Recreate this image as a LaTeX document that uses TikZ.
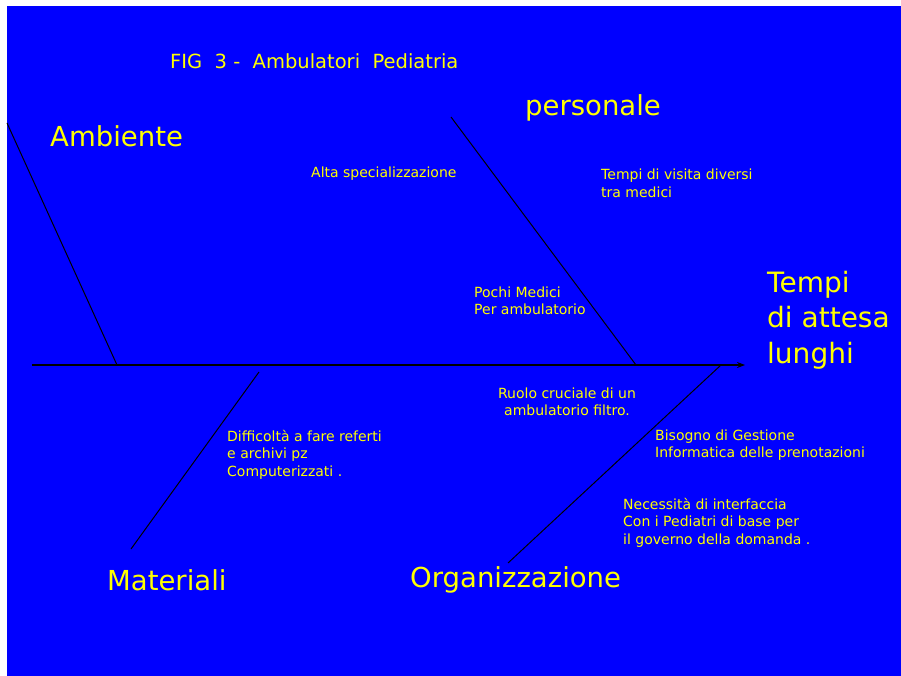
\documentclass[tikz,border=0pt]{standalone}
\usepackage{fontspec}
\setmainfont{DejaVu Sans}
\usetikzlibrary{arrows.meta}
\definecolor{bgblue}{RGB}{0,0,255}
\definecolor{txtyellow}{RGB}{255,255,0}
\newcommand{\smalltxt}{\fontsize{14}{17.5}\selectfont}
\newcommand{\bigtxt}{\fontsize{27.5}{35.5}\selectfont}
\newcommand{\lines}[2]{\begin{tabular}[t]{@{}#1@{}}#2\end{tabular}}
\begin{document}
\begin{tikzpicture}[x=1pt,y=-1pt,
  lbl/.style={text=txtyellow,inner sep=0pt,anchor=base west},
  note/.style={lbl,font=\smalltxt},
  cat/.style={lbl,font=\bigtxt},
  bone/.style={draw=black,line width=1pt},
  spine/.style={draw=black,line width=1.3pt,-{Stealth[length=8pt,width=6pt]}}]
\useasboundingbox (0,0) rectangle (901,676);
\fill[white] (0,0) rectangle (901,676);
\fill[bgblue] (7,6) rectangle (901,676);
% coordinates
\coordinate (tail) at (32,365);
\coordinate (head) at (745,365);
\coordinate (ambA) at (7,123);
\coordinate (ambB) at (117,365);
\coordinate (perA) at (451,117);
\coordinate (perB) at (636,365);
\coordinate (matA) at (259,372);
\coordinate (matB) at (131,549);
\coordinate (orgA) at (721,365);
\coordinate (orgB) at (508,563);
% connectors
\draw[spine] (tail) -- (head);
\draw[bone] (ambA) -- (ambB);
\draw[bone] (perA) -- (perB);
\draw[bone] (matA) -- (matB);
\draw[bone] (orgA) -- (orgB);
% texts
\node[lbl,font=\fontsize{19.5}{24}\selectfont] (title) at (170,69) {FIG~~3 -~~Ambulatori~~Pediatria};
\node[cat] (ambiente) at (50,147) {Ambiente};
\node[cat] (personale) at (525,116) {personale};
\node[cat] (materiali) at (107,590) {Materiali};
\node[cat] (organizzazione) at (410,587) {Organizzazione};
\node[lbl,font=\fontsize{28}{35.5}\selectfont] (effect) at (767,292) {\lines{l}{Tempi\\di attesa\\lunghi}};
\node[note] (alta) at (311,178) {Alta specializzazione};
\node[note] (visita) at (601,180) {\lines{l}{Tempi di visita diversi\\tra medici}};
\node[note] (pochi) at (474,297) {\lines{l}{Pochi Medici\\Per ambulatorio}};
\node[note,anchor=base] (ruolo) at (567,398) {\lines{c}{Ruolo cruciale di un\\ambulatorio filtro.}};
\node[note] (bisogno) at (655,440) {\lines{l}{Bisogno di Gestione\\Informatica delle prenotazioni}};
\node[note] (diff) at (227,441) {\lines{l}{Difficoltà a fare referti\\e archivi pz\\Computerizzati .}};
\node[note] (necess) at (623,509) {\lines{l}{Necessità di interfaccia\\Con i Pediatri di base per\\il governo della domanda .}};
\end{tikzpicture}
\end{document}
